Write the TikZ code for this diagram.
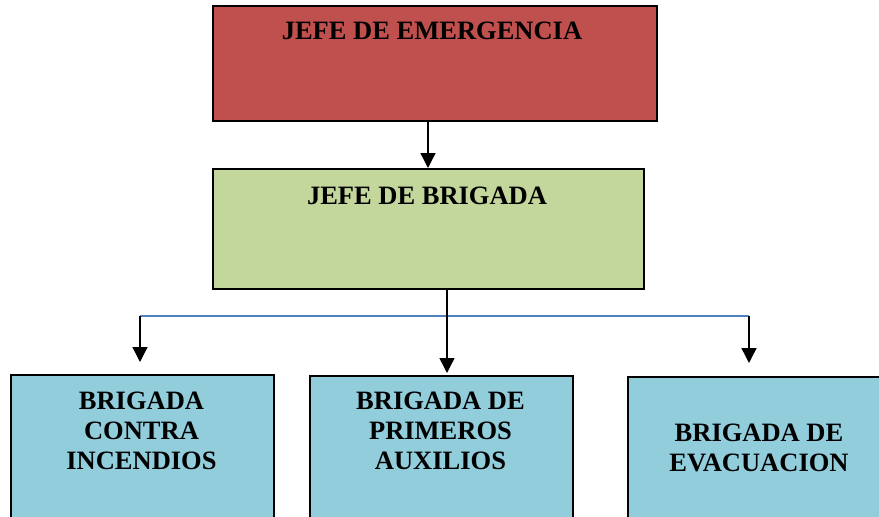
\documentclass[tikz,border=0pt]{standalone}
\usepackage{fontspec}
\setmainfont{Liberation Serif}
\usetikzlibrary{arrows.meta}
\definecolor{redbox}{HTML}{C0504D}
\definecolor{greenbox}{HTML}{C3D69B}
\definecolor{bluebox}{HTML}{92CDDC}
\definecolor{blueline}{HTML}{4F81BD}
\tikzset{
  box/.style={draw=black, line width=1.6pt, rectangle, inner sep=0pt, anchor=north west},
  lbl/.style={font=\fontsize{26.5}{30}\selectfont\bfseries, align=center, inner sep=0pt, text=black},
  arr/.style={line width=1.4pt, -{Triangle[length=15pt,width=15pt]}},
}
\begin{document}
\begin{tikzpicture}[x=1pt,y=-1pt]
\useasboundingbox (0,0) rectangle (879,517);
\node[box, fill=redbox, minimum width=444pt, minimum height=115pt] (jefeE) at (212,5) {};
\node[lbl] (tE) at (432,31) {JEFE DE EMERGENCIA};
\node[box, fill=greenbox, minimum width=431pt, minimum height=120pt] (jefeB) at (212,168) {};
\node[lbl] (tB) at (427,196) {JEFE DE BRIGADA};
\node[box, fill=bluebox, minimum width=263pt, minimum height=144pt] (b1) at (10,374) {};
\node[box, fill=bluebox, minimum width=263pt, minimum height=144pt] (b2) at (309,375) {};
\node[box, fill=bluebox, minimum width=280pt, minimum height=144pt] (b3) at (627,376) {};
\node[lbl] (t1) at (141.5,431) {BRIGADA\\CONTRA\\INCENDIOS};
\node[lbl] (t2) at (440.5,431) {BRIGADA DE\\PRIMEROS\\AUXILIOS};
\node[lbl] (t3) at (759,448) {BRIGADA DE\\EVACUACION};
\coordinate (bl) at (140,316);
\coordinate (br) at (749,316);
\draw[arr] (jefeE.south west -| 428,0) -- (jefeB.north west -| 428,0);
\draw[blueline, line width=1.4pt] (bl) -- (br);
\draw[arr] (jefeB.south west -| 447,0) -- (447,373);
\draw[arr] (bl) -- (140,362);
\draw[arr] (br) -- (749,363);
\end{tikzpicture}
\end{document}
